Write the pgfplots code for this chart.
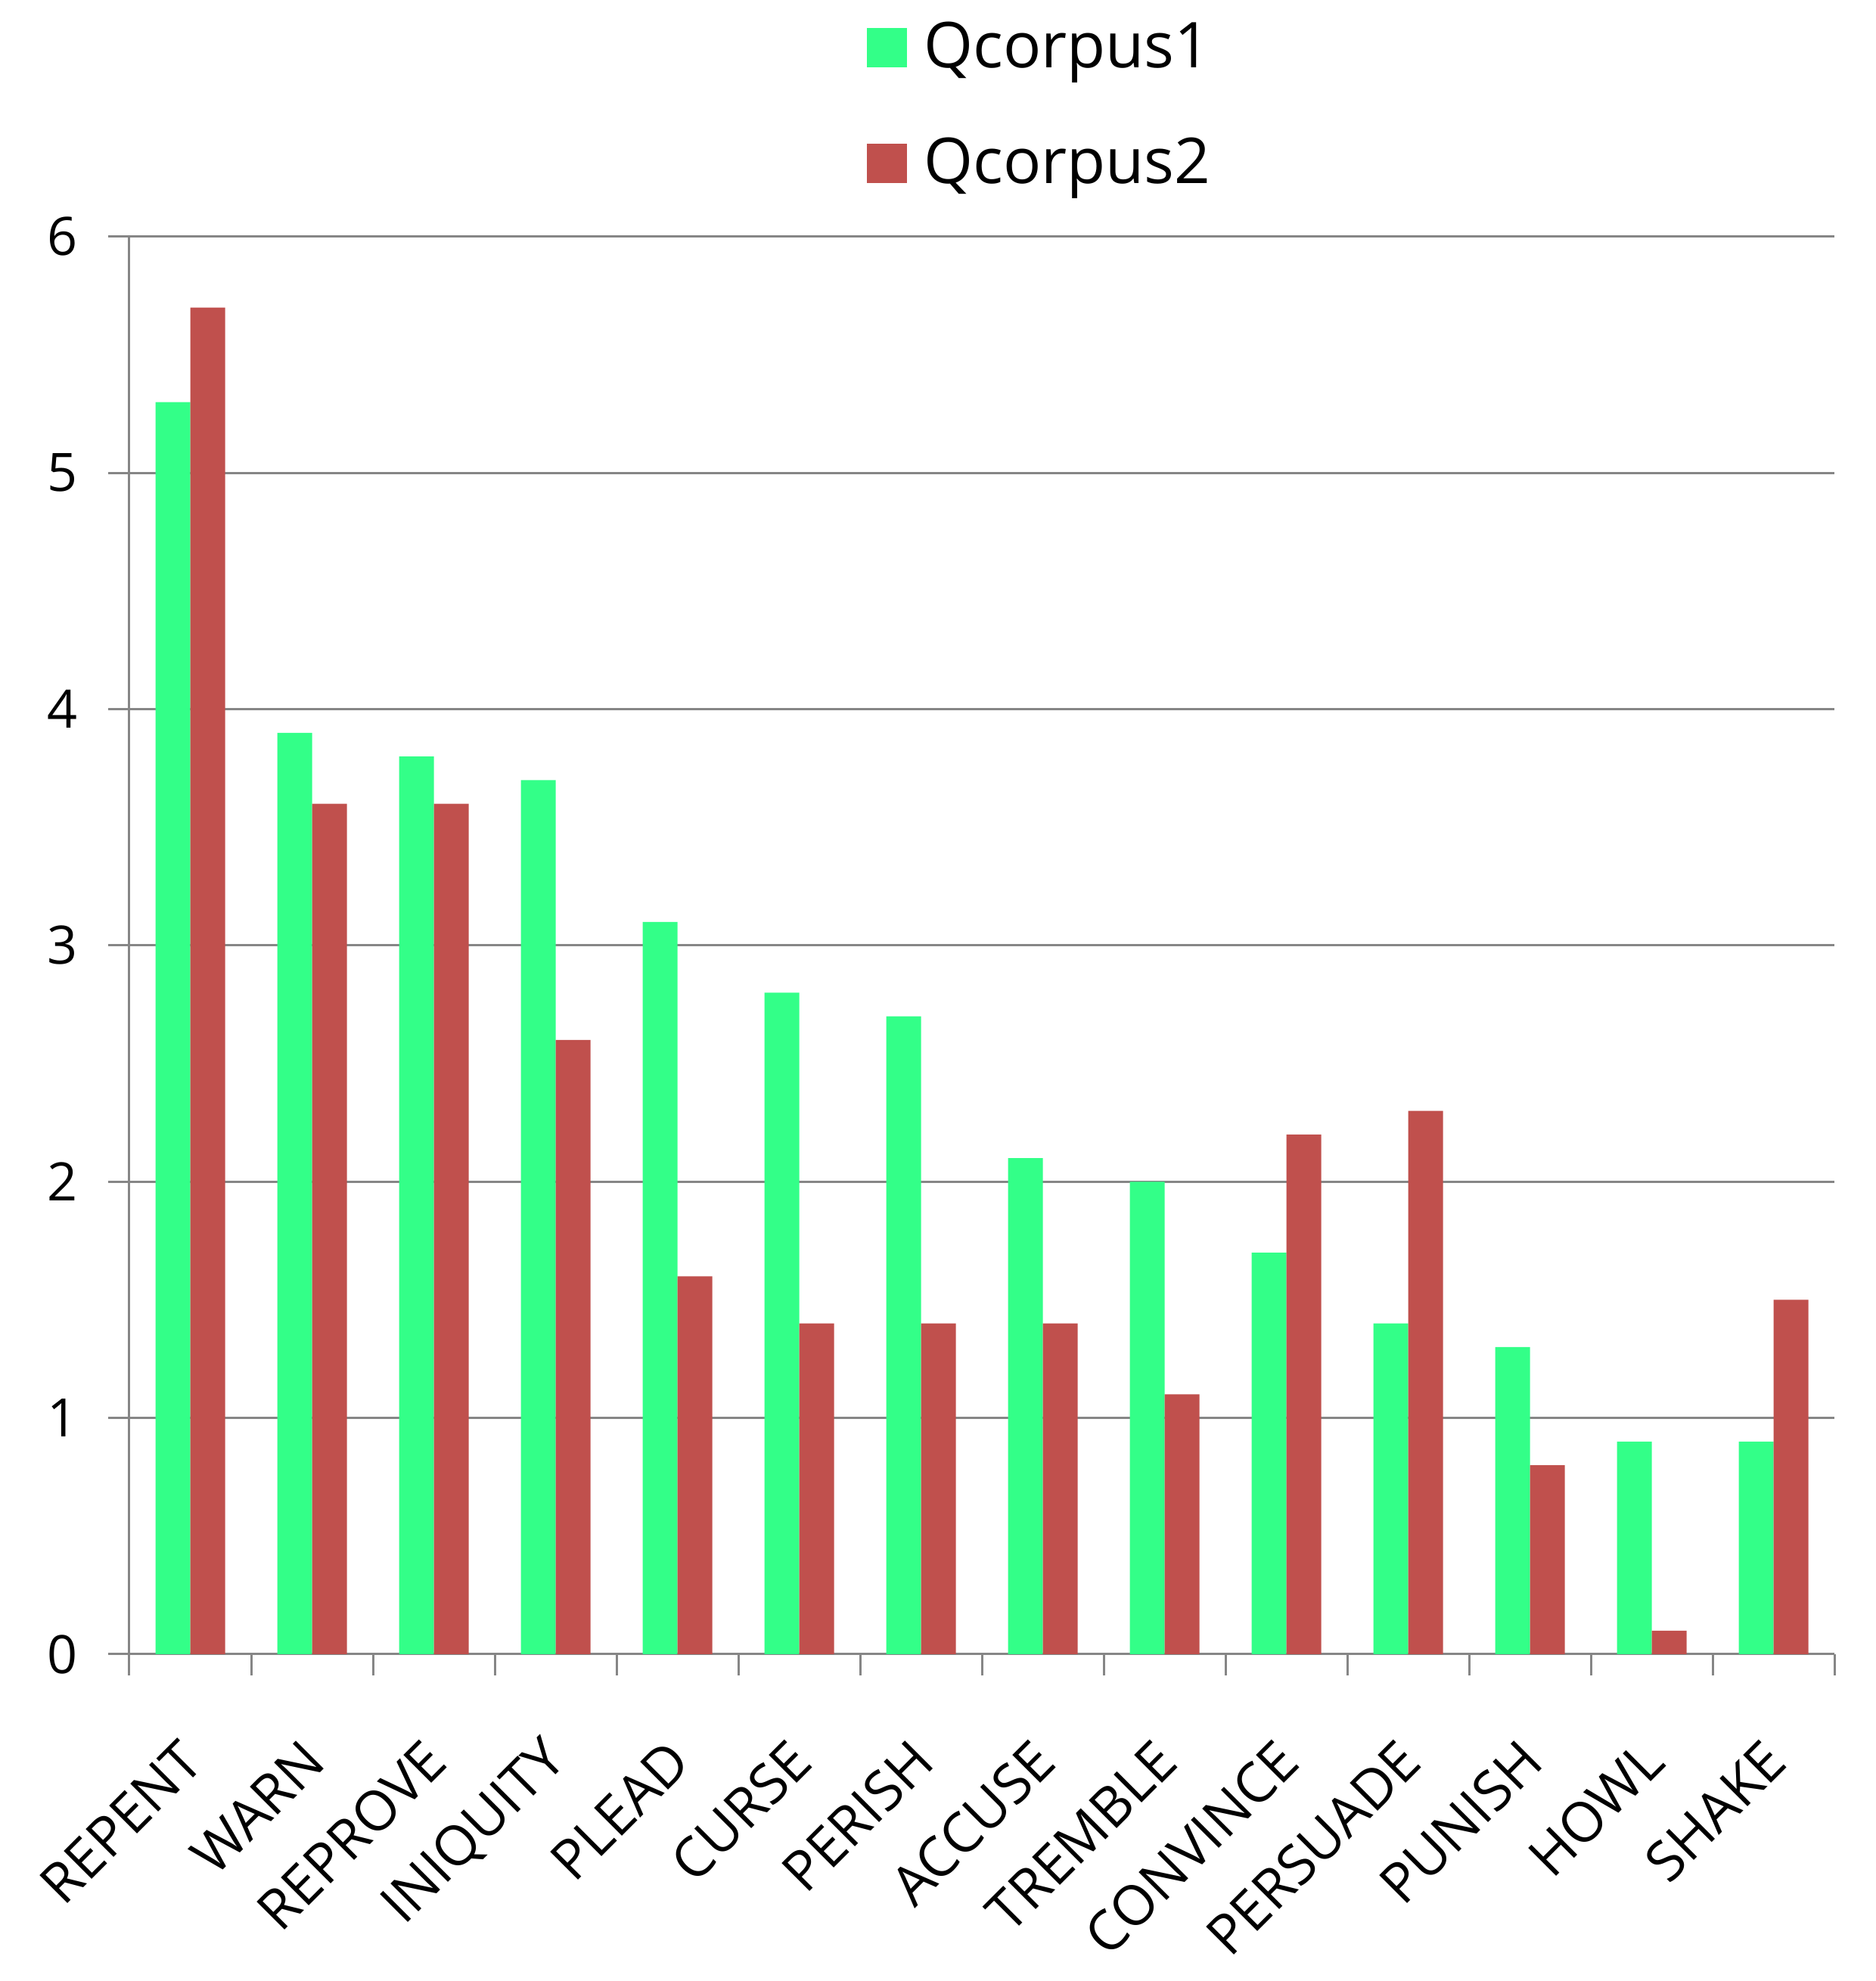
\documentclass[border=0pt]{standalone}
\usepackage{pgfplots}
\pgfplotsset{compat=1.18}
\usepackage{pgfplotstable}
\usepackage{fontspec}
\setmainfont{Open Sans}
\definecolor{qgreen}{RGB}{51,255,136}
\definecolor{qred}{RGB}{192,80,77}
\definecolor{gridgray}{RGB}{134,134,134}
\pgfplotstableread{
idx q1 q2
0 5.3 5.7
1 3.9 3.6
2 3.8 3.6
3 3.7 2.6
4 3.1 1.6
5 2.8 1.4
6 2.7 1.4
7 2.1 1.4
8 2.0 1.1
9 1.7 2.2
10 1.4 2.3
11 1.3 0.8
12 0.9 0.1
13 0.9 1.5
}\datatable
\begin{document}
\begin{tikzpicture}
\begin{axis}[
  name=ax,
  at={(0,0)}, anchor=south west,
  scale only axis,
  width=450.8pt, height=374.8pt,
  ybar=0pt, bar width=9.2pt,
  xmin=-0.5, xmax=13.5,
  ymin=0, ymax=6,
  xtick={-0.5,0.5,...,13.5},
  x tick label as interval,
  xticklabels={REPENT,WARN,REPROVE,INIQUITY,PLEAD,CURSE,PERISH,ACCUSE,TREMBLE,CONVINCE,PERSUADE,PUNISH,HOWL,SHAKE},
  ytick={0,1,...,6},
  axis x line=bottom, axis y line=left,
  axis line style={-, draw=gridgray, line width=0.6pt},
  tick style={draw=gridgray, line width=0.6pt},
  tick align=outside,
  major tick length=5.6pt,
  ymajorgrids, grid style={draw=gridgray, line width=0.6pt},
  /pgf/number format/assume math mode=true,
  ticklabel style={font=\fontsize{14}{16}\selectfont},
  yticklabel style={xshift=-4.5pt},
  xticklabel style={xshift=3pt, yshift=-17.5pt, rotate=45, anchor=east, font=\fontsize{14.6}{16}\selectfont},
  legend style={at={(0.43,1)}, anchor=south west, xshift=-2pt, yshift=8.3pt, draw=none, fill=none,
    font=\fontsize{16.7}{19}\selectfont, row sep=13pt, legend cell align=left},
]
\addplot[fill=qgreen, draw=none, legend image code/.code={\fill[qgreen] (0pt,-5.2pt) rectangle (10.6pt,5.2pt); \path (13pt,0pt);}] table[x=idx, y=q1] {\datatable};
\addplot[fill=qred, draw=none, legend image code/.code={\fill[qred] (0pt,-5.2pt) rectangle (10.6pt,5.2pt); \path (13pt,0pt);}] table[x=idx, y=q2] {\datatable};
\legend{Qcorpus1,Qcorpus2}
\end{axis}
\pgfresetboundingbox
\useasboundingbox ([xshift=-34.2pt, yshift=-86.4pt]ax.south west) rectangle ([xshift=11pt, yshift=62.6pt]ax.north east);
\end{tikzpicture}
\end{document}
